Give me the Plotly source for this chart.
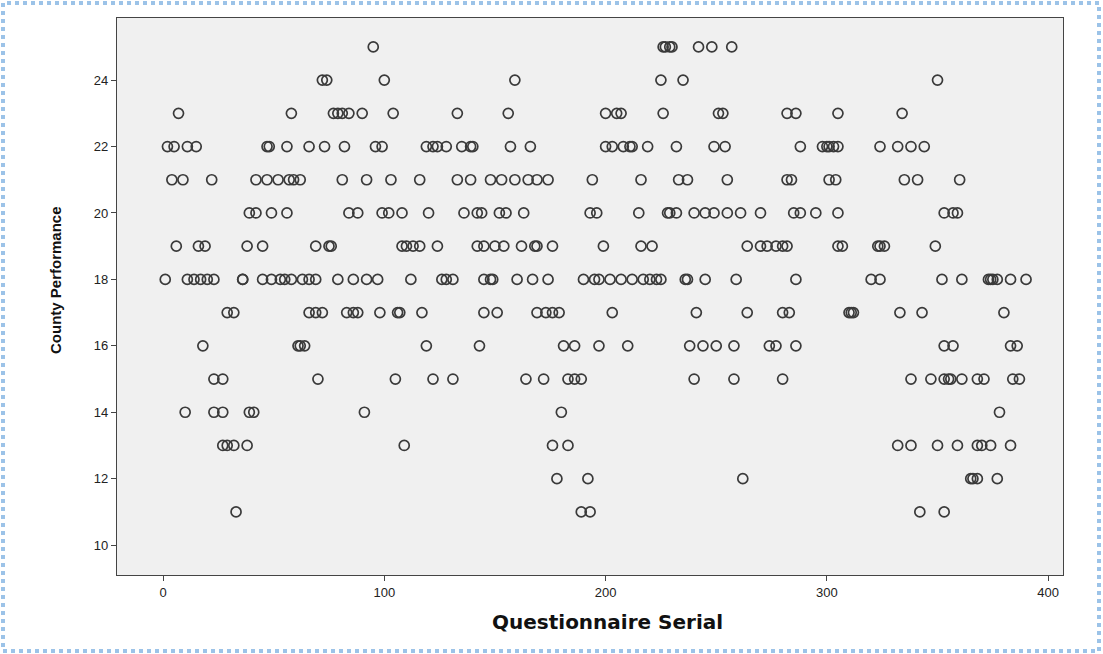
import plotly.graph_objects as go

# Questionnaire serial numbers for each County Performance score
serial_25 = [95, 226, 227, 229, 230, 242, 248, 257]
serial_24 = [72, 74, 100, 159, 225, 235, 350]
serial_23 = [7, 58, 77, 79, 81, 84, 90, 104, 133, 156, 200, 205, 207, 226, 251, 253, 282, 286, 305, 334]
serial_22 = [2, 5, 11, 15, 47, 48, 56, 66, 73, 82, 96, 99, 119, 122, 124, 128, 135, 139, 140, 157, 166,
             200, 203, 208, 211, 212, 219, 232, 249, 254, 288, 298, 300, 301, 303, 305, 324, 332, 338, 344]
serial_21 = [4, 9, 22, 42, 47, 52, 57, 59, 62, 81, 92, 103, 116, 133, 139, 148, 153, 159, 165, 169, 174,
             194, 216, 233, 237, 255, 282, 284, 301, 304, 335, 341, 360]
serial_20 = [39, 42, 49, 56, 84, 88, 99, 102, 108, 120, 136, 142, 144, 152, 155, 163, 193, 196, 215,
             228, 229, 232, 240, 245, 249, 255, 261, 270, 285, 288, 295, 305, 353, 357, 359]
serial_19 = [6, 16, 19, 38, 45, 69, 75, 76, 108, 110, 113, 116, 124, 142, 145, 150, 154, 162, 168, 169,
             176, 199, 216, 221, 264, 270, 273, 277, 280, 282, 305, 307, 323, 324, 326, 349]
serial_18 = [1, 11, 14, 17, 20, 23, 36, 36, 45, 49, 53, 55, 58, 63, 66, 69, 79, 86, 92, 97, 112, 126,
             128, 131, 145, 148, 149, 160, 167, 174, 190, 195, 197, 202, 207, 212, 217, 220, 223, 225,
             236, 237, 245, 259, 286, 320, 324, 352, 361, 373, 374, 375, 377, 383, 390]
serial_17 = [29, 32, 66, 69, 72, 83, 86, 88, 98, 106, 107, 117, 145, 151, 169, 173, 176, 179, 203, 241,
             264, 280, 283, 310, 311, 312, 333, 343, 380]
serial_16 = [18, 61, 62, 64, 119, 143, 181, 186, 197, 210, 238, 244, 250, 258, 274, 277, 286, 353, 357,
             383, 386]
serial_15 = [23, 27, 70, 105, 122, 131, 164, 172, 183, 186, 189, 240, 258, 280, 338, 347, 353, 355, 356,
             361, 368, 371, 384, 387]
serial_14 = [10, 23, 27, 39, 41, 91, 180, 378]
serial_13 = [27, 29, 32, 38, 109, 176, 183, 332, 338, 350, 359, 368, 370, 374, 383]
serial_12 = [178, 192, 262, 365, 366, 368, 377]
serial_11 = [33, 189, 193, 342, 353]

levels = {25: serial_25, 24: serial_24, 23: serial_23, 22: serial_22, 21: serial_21, 20: serial_20,
          19: serial_19, 18: serial_18, 17: serial_17, 16: serial_16, 15: serial_15, 14: serial_14,
          13: serial_13, 12: serial_12, 11: serial_11}

xs, ys = [], []
for score, serials in levels.items():
    for s in serials:
        xs.append(s)
        ys.append(score)

x_ticks = [0, 100, 200, 300, 400]
y_ticks = [10, 12, 14, 16, 18, 20, 22, 24]

W, H = 1103, 654
L, R, T, B = 117, 40, 18, 79
PW, PH = W - L - R, H - T - B

fig = go.Figure()
fig.add_trace(go.Scatter(
    x=xs, y=ys, mode="markers",
    marker=dict(symbol="circle-open", size=10, color="#3a3a3a", line=dict(width=1.7, color="#3a3a3a")),
    showlegend=False, hoverinfo="x+y"))

axis_common = dict(showgrid=False, zeroline=False, showline=True, linecolor="#444444", linewidth=1.3,
                   mirror=True, ticks="outside", ticklen=5, tickcolor="#444444",
                   tickfont=dict(family="Liberation Sans, Arial", size=13, color="#222222"))

fig.update_layout(
    width=W, height=H,
    paper_bgcolor="white", plot_bgcolor="#f0f0f0",
    margin=dict(l=L, r=R, t=T, b=B),
    xaxis=dict(range=[-20.8, 406.7], tickvals=x_ticks, **axis_common),
    yaxis=dict(range=[9.1, 25.87], tickvals=y_ticks, **axis_common),
    annotations=[
        dict(text="<b>Questionnaire Serial</b>", xref="paper", yref="paper",
             x=(607 - L) / PW, y=-(622 - (T + PH)) / PH, xanchor="center", yanchor="middle",
             showarrow=False, font=dict(family="DejaVu Sans", size=20, color="#111111")),
        dict(text="<b>County Performance</b>", xref="paper", yref="paper",
             x=-(L - 55) / PW, y=(T + PH - 280) / PH, xanchor="center", yanchor="middle",
             textangle=-90, showarrow=False,
             font=dict(family="Liberation Sans, Arial", size=15, color="#111111")),
    ],
    shapes=[dict(type="rect", xref="paper", yref="paper",
                 x0=(3 - L) / PW, x1=(1099 - L) / PW,
                 y0=(T + PH - 651) / PH, y1=(T + PH - 3) / PH,
                 line=dict(color="#9cc3e8", width=4, dash="dot"), layer="below")],
)

fig.write_html("out.html", config={"displayModeBar": False},
               post_script="document.body.style.margin='0';")
